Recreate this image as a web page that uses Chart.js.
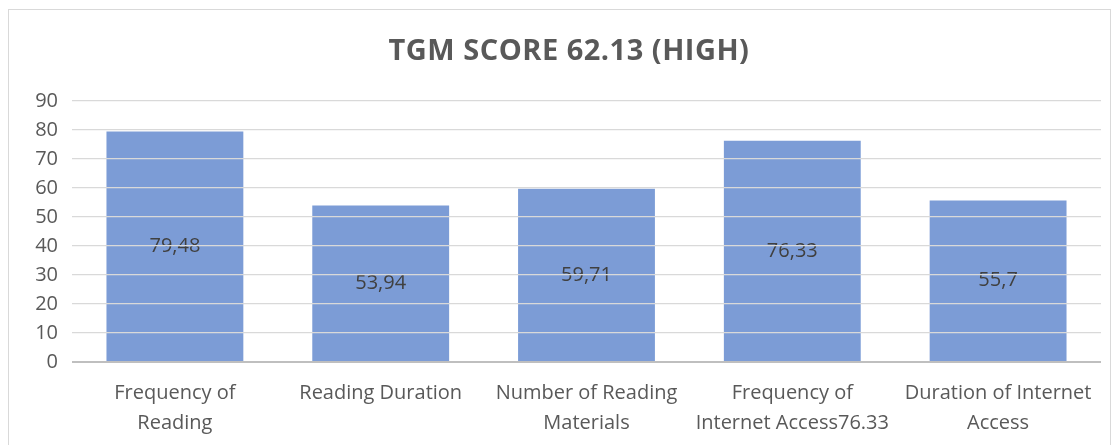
<!DOCTYPE html>
<html>
<head>
<meta charset="utf-8">
<script src="https://cdn.jsdelivr.net/npm/chart.js@4"></script>
<style>
    body { margin: 0; background: #fff; }
    #wrap {
        position: absolute;
        left: 8px;
        top: 9px;
        width: 1101px;
        height: 440px;
        border: 1px solid #D9D9D9;
    }
</style>
</head>
<body>
<div id="wrap"><canvas id="barChart"></canvas></div>
<script>
var chartTitle = 'TGM SCORE 62.13 (HIGH)';
var categories = [
    ['Frequency of', 'Reading'],
    'Reading Duration',
    ['Number of Reading', 'Materials'],
    ['Frequency of', 'Internet Access76.33'],
    ['Duration of Internet', 'Access']
];
var scores = [79.48, 53.94, 59.71, 76.33, 55.7];
var scoreLabels = ['79,48', '53,94', '59,71', '76,33', '55,7'];
var yTicks = [0, 10, 20, 30, 40, 50, 60, 70, 80, 90];

var fontFamily = '"Open Sans", sans-serif';

// value labels in the middle of each bar
var centerLabels = {
    id: 'centerLabels',
    afterDatasetsDraw: function (chart) {
        var ctx = chart.ctx;
        var meta = chart.getDatasetMeta(0);
        ctx.save();
        ctx.font = '20px ' + fontFamily;
        ctx.fillStyle = '#404040';
        ctx.textAlign = 'center';
        ctx.textBaseline = 'middle';
        meta.data.forEach(function (bar, i) {
            var mid = (bar.y + bar.base) / 2;
            ctx.fillText(scoreLabels[i], bar.x, mid);
        });
        ctx.restore();
    }
};

// title drawn by hand so it can get a little letter spacing
var spacedTitle = {
    id: 'spacedTitle',
    afterDraw: function (chart) {
        var ctx = chart.ctx;
        ctx.save();
        ctx.font = 'bold 29px ' + fontFamily;
        ctx.letterSpacing = '0.5px';
        ctx.fillStyle = '#595959';
        ctx.textAlign = 'center';
        ctx.textBaseline = 'alphabetic';
        ctx.fillText(chartTitle, 560, 50);
        ctx.restore();
    }
};

var ctx = document.getElementById('barChart').getContext('2d');
var barChart = new Chart(ctx, {
    type: 'bar',
    data: {
        labels: categories,
        datasets: [{
            label: 'TGM',
            data: scores,
            backgroundColor: 'rgba(68, 114, 196, 0.7)',
            borderWidth: 0,
            categoryPercentage: 1,
            barPercentage: 0.665
        }]
    },
    options: {
        responsive: true,
        maintainAspectRatio: false,
        animation: false,
        layout: {
            padding: { left: 0, right: 9, top: 91, bottom: 0 }
        },
        plugins: {
            legend: { display: false },
            tooltip: { enabled: false },
            title: { display: false }
        },
        scales: {
            x: {
                grid: { display: false },
                border: { display: false },
                ticks: {
                    color: '#595959',
                    padding: 8,
                    maxRotation: 0,
                    autoSkip: false,
                    font: { family: fontFamily, size: 20, lineHeight: 1.5 }
                },
                afterFit: function (scale) { scale.height = 88; }
            },
            y: {
                min: 0,
                max: 90,
                afterBuildTicks: function (scale) {
                    scale.ticks = yTicks.map(function (v) { return { value: v }; });
                },
                border: { display: false },
                grid: {
                    drawTicks: false,
                    color: function (c) { return c.tick && c.tick.value === 0 ? '#BFBFBF' : '#D9D9D9'; },
                    lineWidth: function (c) { return c.tick && c.tick.value === 0 ? 2 : 1.2; },
                    z: 1
                },
                ticks: {
                    color: '#595959',
                    padding: 14,
                    font: { family: fontFamily, size: 20 }
                },
                afterFit: function (scale) { scale.width = 63; }
            }
        }
    },
    plugins: [centerLabels, spacedTitle]
});
</script>
</body>
</html>
